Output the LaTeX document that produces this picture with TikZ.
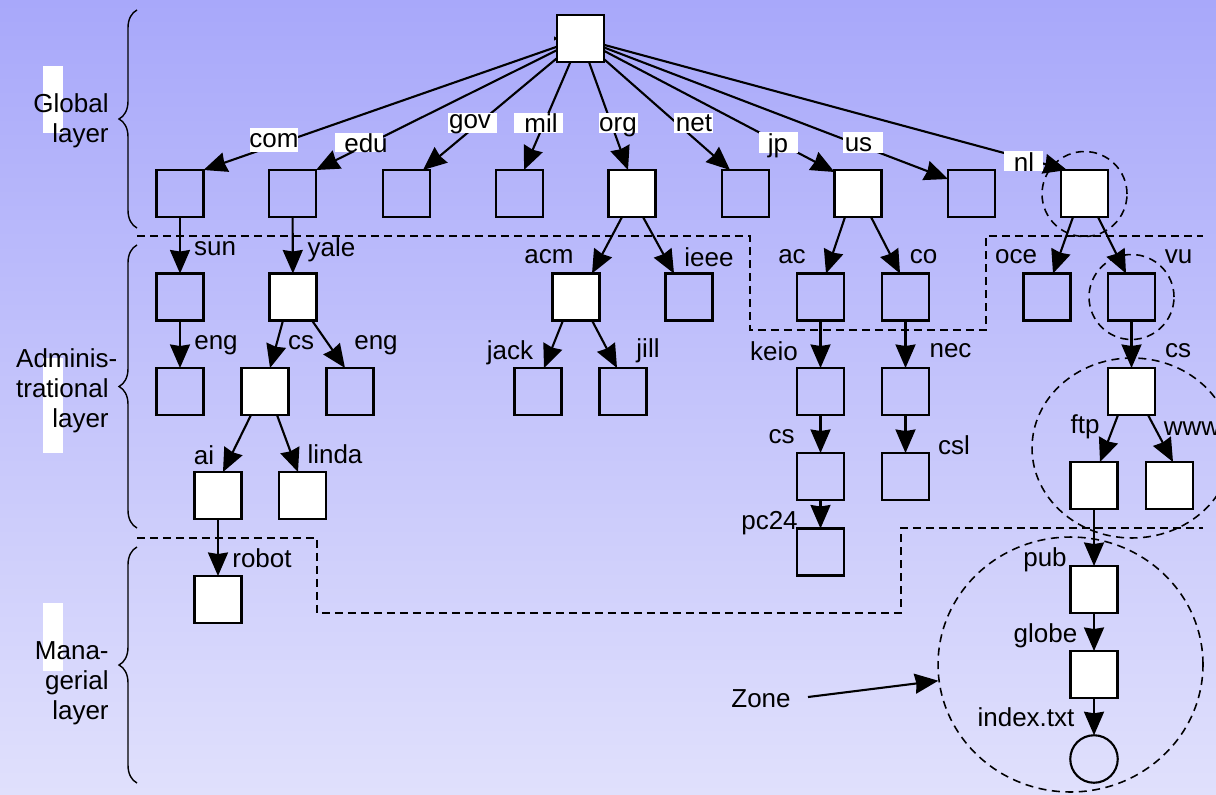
\documentclass[tikz,border=0pt]{standalone}
\usepackage{fontspec}
\setmainfont{Liberation Sans}
\usetikzlibrary{arrows.meta,shapes.geometric,calc,decorations.pathreplacing}
\definecolor{bgtop}{RGB}{168,168,250}
\definecolor{bgbot}{RGB}{224,224,252}
\newcommand\lblsize{\fontsize{14.8}{17}\selectfont}

\begin{document}
\begin{tikzpicture}[x=0.02cm,y=-0.02cm,
  box/.style={draw,line width=1.2pt,minimum size=0.94cm,inner sep=0,outer sep=0},
  wbox/.style={box,fill=white},
  leaf/.style={draw,line width=1.2pt,circle,minimum size=0.95cm,inner sep=0,outer sep=0},
  lbl/.style={font=\lblsize,inner sep=0},
  edge/.style={line width=1.2pt,-{Stealth[length=0.47cm,width=0.4cm,inset=0.03cm]}},
  layerline/.style={dash pattern=on 0.16cm off 0.1cm,line width=1pt},
  zone/.style={draw,dash pattern=on 0.16cm off 0.11cm,line width=0.9pt,inner sep=0},
  layerbrace/.style={decorate,decoration={brace,amplitude=0.36cm},line width=0.8pt},
  layertxt/.style={font=\lblsize,align=right,anchor=east,inner sep=0}
]

% background
\shade[top color=bgtop,bottom color=bgbot] (0,0) rectangle (1216,794);
\useasboundingbox (0,0) rectangle (1216,794);

% white strips behind the layer names
\fill[white] (43,66) rectangle (63,133);
\fill[white] (43,358) rectangle (63,453);
\fill[white] (43,603) rectangle (63,671);

% layer names and braces
\node[layertxt] (glob) at (109,121) {Global\\layer};
\node[layertxt] (admin) at (109,391) {Adminis\rlap{-}\\trational\\layer};
\node[layertxt] (mgmt) at (109,683) {Mana-\\gerial\\layer};
\draw[layerbrace] (137,228) -- (137,10);
\draw[layerbrace] (137,528) -- (137,245);
\draw[layerbrace] (137,783) -- (137,547);

% layer boundaries
\draw[layerline] (137,236) -- (750,236) -- (750,330) -- (986,330) -- (986,236) -- (1203,236);
\draw[layerline] (137,538) -- (317,538) -- (317,613) -- (901,613) -- (901,528) -- (1203,528);

% zones
\node[zone,circle,minimum size=1.7cm] (nlzone) at (1084.5,194) {};
\node[zone,circle,minimum size=1.7cm] (vuzone) at (1131.5,297) {};
\node[zone,ellipse,minimum width=4cm,minimum height=3.6cm] (cszone) at (1132,448) {};
\node[zone,ellipse,minimum width=5.3cm,minimum height=5.1cm] (pubzone) at (1070.5,664.5) {};

% name space tree
\node[wbox] (root) at (580.5,38.5) {};

\node[box]  (com) at (180,193.5) {};
\node[box]  (edu) at (292.5,193.5) {};
\node[box]  (gov) at (406.5,193.5) {};
\node[box]  (mil) at (519.5,193.5) {};
\node[wbox] (org) at (632,193.5) {};
\node[box]  (net) at (745.5,193.5) {};
\node[wbox] (jp)  at (858,193.5) {};
\node[box]  (us)  at (971.5,193.5) {};
\node[wbox] (nl)  at (1084.5,193.5) {};

\node[box]  (sun)  at (180,297) {};
\node[wbox] (yale) at (293,297) {};
\node[wbox] (acm)  at (576,297) {};
\node[box]  (ieee) at (689,297) {};
\node[box]  (ac)   at (820.5,297) {};
\node[box]  (co)   at (905.5,297) {};
\node[box]  (oce)  at (1047,297) {};
\node[box]  (vu)   at (1131.5,297) {};

\node[box]  (suneng)  at (180,391.5) {};
\node[wbox] (yalecs)  at (265,391.5) {};
\node[box]  (yaleeng) at (350,391.5) {};
\node[box]  (jack)    at (538,391.5) {};
\node[box]  (jill)    at (623,391.5) {};
\node[box]  (keio)    at (820.5,391.5) {};
\node[box]  (nec)     at (905.5,391.5) {};
\node[wbox] (vucs)    at (1131.5,391.5) {};

\node[wbox] (ai)     at (218,495.5) {};
\node[wbox] (linda)  at (302.5,495.5) {};
\node[box]  (keiocs) at (820.5,476.5) {};
\node[box]  (csl)    at (905.5,476.5) {};
\node[wbox] (ftp)    at (1094,485.5) {};
\node[wbox] (www)    at (1169.5,485.5) {};

\node[wbox] (robot) at (218,599.5) {};
\node[box]  (pc24)  at (820.5,552) {};
\node[wbox] (pub)   at (1094,589.5) {};
\node[wbox] (globe) at (1094,674.5) {};
\node[leaf] (index) at (1094,759) {};

% small tip at the root
\fill (554,36.3) -- (557.5,38.5) -- (554,40.7) -- cycle;

% top-level domains
\draw[edge] (root) -- (com.north east);
\draw[edge] (root) -- (edu.north east);
\draw[edge] (root) -- ($(gov.north)+(16.5,0)$);
\draw[edge] (root) -- ($(mil.north)+(4.5,0)$);
\draw[edge] (root) -- ($(org.north)+(-4,0)$);
\draw[edge] (root) -- ($(net.north)+(-15.5,0)$);
\draw[edge] (root) -- ($(jp.north west)+(0,2)$);
\draw[edge] (root) -- ($(us.north west)+(0,9)$);
\draw[edge] (root) -- ($(nl.north west)+(6,0)$);

% lower levels
\draw[edge] (com) -- (sun);
\draw[edge] (edu) -- (yale);
\draw[edge] (sun) -- (suneng);
\draw[edge] ($(yale.south)+(-10,0)$) -- ($(yalecs.north)+(5,0)$);
\draw[edge] ($(yale.south)+(19,0)$) -- ($(yaleeng.north)+(-5,0)$);
\draw[edge] ($(yalecs.south)+(-14,0)$) -- ($(ai.north)+(5,0)$);
\draw[edge] ($(yalecs.south)+(12,0)$) -- ($(linda.north)+(-4.5,0)$);
\draw[edge] (ai) -- (robot);
\draw[edge] ($(org.south)+(-10,0)$) -- ($(acm.north)+(16,0)$);
\draw[edge] ($(org.south)+(11,0)$) -- ($(ieee.north)+(-15,0)$);
\draw[edge] ($(acm.south)+(-13,0)$) -- ($(jack.north)+(6,0)$);
\draw[edge] ($(acm.south)+(16,0)$) -- ($(jill.north)+(-6,0)$);
\draw[edge] ($(jp.south)+(-13,0)$) -- ($(ac.north)+(5.5,0)$);
\draw[edge] ($(jp.south)+(13,0)$) -- ($(co.north)+(-5.5,0)$);
\draw[edge] (ac) -- (keio);
\draw[edge] (co) -- (nec);
\draw[edge] (keio) -- (keiocs);
\draw[edge] (nec) -- (csl);
\draw[edge] (keiocs) -- (pc24);
\draw[edge] ($(nl.south)+(-11.5,0)$) -- ($(oce.north)+(6,0)$);
\draw[edge] ($(nl.south)+(13.5,0)$) -- ($(vu.north)+(-5.5,0)$);
\draw[edge] (vu) -- (vucs);
\draw[edge] ($(vucs.south)+(-13.5,0)$) -- ($(ftp.north)+(6,0)$);
\draw[edge] ($(vucs.south)+(16.5,0)$) -- ($(www.north)+(3.5,0)$);
\draw[edge] (ftp) -- (pub);
\draw[edge] (pub) -- (globe);
\draw[edge] (globe) -- (index);

% label backgrounds of the top-level domains
\fill[white] (250,128) rectangle (298,152);
\fill[white] (335,133) rectangle (383,152);
\fill[white] (448,113) rectangle (497,133);
\fill[white] (514,113) rectangle (563,133);
\fill[white] (599,113) rectangle (638,133);
\fill[white] (674,113) rectangle (713,133);
\fill[white] (759,132) rectangle (798,153);
\fill[white] (843,132) rectangle (883,153);
\fill[white] (1004,151) rectangle (1043,171);

% edge labels
\node[lbl] (lcom) at (274,141) {com};
\node[lbl] (ledu) at (366,143.5) {edu};
\node[lbl] (lgov) at (470,124) {gov};
\node[lbl] (lmil) at (541,123) {mil};
\node[lbl] (lorg) at (618,127) {org};
\node[lbl] (lnet) at (694,123.5) {net};
\node[lbl] (ljp)  at (778,146) {jp};
\node[lbl] (lus)  at (858.5,144.5) {us};
\node[lbl] (lnl)  at (1024,162.5) {nl};

\node[lbl] (lsun)     at (215,248.5) {sun};
\node[lbl] (lyale)    at (331.5,250) {yale};
\node[lbl] (lsuneng)  at (216,345) {eng};
\node[lbl] (lyalecs)  at (301,342.5) {cs};
\node[lbl] (lyaleeng) at (376,345) {eng};
\node[lbl] (lai)      at (204,455) {ai};
\node[lbl] (llinda)   at (335,454.5) {linda};
\node[lbl] (lrobot)   at (262,558) {robot};
\node[lbl] (lacm)     at (549,257) {acm};
\node[lbl] (lieee)    at (709,257) {ieee};
\node[lbl] (ljack)    at (510,352.5) {jack};
\node[lbl] (ljill)    at (648,350.5) {jill};
\node[lbl] (lac)      at (792,257) {ac};
\node[lbl] (lco)      at (923.5,257) {co};
\node[lbl] (lkeio)    at (774,351) {keio};
\node[lbl] (lnec)     at (950.5,351) {nec};
\node[lbl] (lkeiocs)  at (781.5,436.5) {cs};
\node[lbl] (lcsl)     at (954,445) {csl};
\node[lbl] (lpc)      at (769.5,523) {pc24};
\node[lbl] (loce)     at (1016,257) {oce};
\node[lbl] (lvu)      at (1178.5,257) {vu};
\node[lbl] (lvucs)    at (1178,351) {cs};
\node[lbl] (lftp)     at (1085,426.5) {ftp};
\node[lbl] (lwww)     at (1192,428.5) {www};
\node[lbl] (lpub)     at (1045,560) {pub};
\node[lbl] (lglobe)   at (1045.5,636) {globe};
\node[lbl] (lindex)   at (1026,717.5) {index.txt};

% zone pointer
\node[lbl] (zonelbl) at (761,699) {Zone};
\draw[edge] ($(zonelbl.east)+(17,-2)$) -- (pubzone.187);

\end{tikzpicture}
\end{document}
